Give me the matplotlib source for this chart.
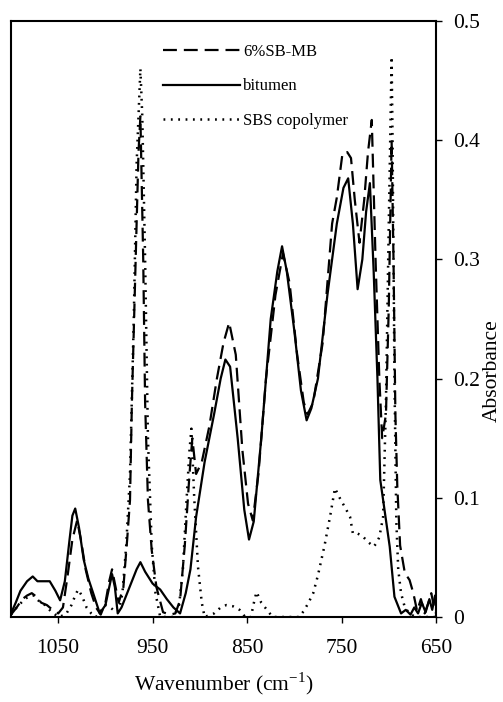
import numpy as np
import matplotlib
matplotlib.use('Agg')
import matplotlib.pyplot as plt

plt.rcParams['font.family'] = ['Liberation Serif', 'DejaVu Serif']
plt.rcParams['lines.scale_dashes'] = False

# 6%SB-MB (dashed)
wn_mb = [1100, 1094, 1088, 1083, 1078, 1073, 1068, 1062, 1056, 1050, 1045, 1040, 1035, 1030, 1026,
         1021, 1015, 1010, 1005, 1000, 996, 993, 990, 986, 981, 977, 974, 972, 968, 965, 963, 960,
         958, 955, 951, 946, 939, 932, 926, 921, 916, 911, 908, 904, 898, 890, 882, 875, 869, 862,
         855, 849, 844, 838, 830, 820, 812, 805, 797, 790, 786, 780, 770, 760, 755, 749, 744, 740,
         736, 731, 726, 722, 718, 714, 710, 707, 703, 700, 697, 695, 693, 691, 688, 683, 678, 674,
         670, 666, 662, 658, 655, 652, 650]
ab_mb = [0.002, 0.008, 0.015, 0.018, 0.02, 0.017, 0.012, 0.01, 0.006, 0.003, 0.008, 0.035, 0.065,
         0.081, 0.065, 0.04, 0.02, 0.008, 0.002, 0.012, 0.03, 0.04, 0.028, 0.012, 0.025, 0.065,
         0.098, 0.18, 0.3, 0.39, 0.42, 0.3, 0.18, 0.098, 0.056, 0.025, 0.004, 0.002, 0.003, 0.014,
         0.06, 0.12, 0.15, 0.12, 0.13, 0.16, 0.2, 0.23, 0.247, 0.22, 0.14, 0.095, 0.081, 0.12, 0.2,
         0.27, 0.305, 0.28, 0.22, 0.18, 0.17, 0.18, 0.23, 0.33, 0.352, 0.389, 0.39, 0.385, 0.35,
         0.314, 0.35, 0.39, 0.417, 0.3, 0.2, 0.15, 0.17, 0.26, 0.40, 0.30, 0.17, 0.11, 0.06, 0.037,
         0.031, 0.02, 0.005, 0.015, 0.003, 0.012, 0.02, 0.008, 0.003]

# bitumen (solid)
wn_bit = [1100, 1095, 1090, 1083, 1077, 1072, 1066, 1059, 1053, 1048, 1043, 1038, 1035, 1032, 1028,
          1023, 1018, 1013, 1006, 1000, 996, 993, 990, 987, 983, 978, 972, 967, 963, 958, 950, 942,
          935, 928, 921, 915, 910, 904, 895, 885, 878, 873, 868, 860, 853, 848, 843, 835, 825, 818,
          813, 808, 800, 793, 787, 782, 775, 765, 755, 748, 743, 738, 733, 728, 724, 720, 716, 712,
          709, 704, 699, 694, 687, 682, 677, 673, 669, 665, 661, 657, 654, 651, 650]
ab_bit = [0.003, 0.012, 0.022, 0.030, 0.034, 0.030, 0.030, 0.030, 0.022, 0.014, 0.030, 0.065, 0.085,
          0.091, 0.075, 0.048, 0.032, 0.020, 0.003, 0.01, 0.025, 0.036, 0.025, 0.003, 0.008, 0.018,
          0.03, 0.04, 0.046, 0.038, 0.028, 0.023, 0.015, 0.008, 0.003, 0.02, 0.04, 0.084, 0.13, 0.17,
          0.2, 0.216, 0.21, 0.15, 0.09, 0.065, 0.08, 0.15, 0.25, 0.29, 0.311, 0.29, 0.24, 0.19, 0.165,
          0.175, 0.2, 0.27, 0.33, 0.36, 0.368, 0.33, 0.275, 0.30, 0.34, 0.364, 0.29, 0.2, 0.115,
          0.087, 0.059, 0.017, 0.003, 0.006, 0.002, 0.008, 0.003, 0.012, 0.004, 0.015, 0.006, 0.018,
          0.01]

# SBS copolymer (dotted)
wn_sbs = [1100, 1094, 1088, 1082, 1076, 1070, 1064, 1058, 1050, 1042, 1036, 1032, 1029, 1025, 1020,
          1015, 1010, 1005, 1000, 995, 990, 986, 982, 978, 974, 970, 967, 963, 961, 958, 955, 951,
          947, 942, 935, 928, 922, 918, 914, 911, 909, 906, 902, 898, 895, 885, 878, 872, 865, 858,
          852, 846, 842, 840, 835, 828, 823, 810, 795, 790, 785, 780, 775, 768, 762, 757, 752, 745,
          741, 738, 733, 728, 722, 716, 713, 710, 706, 703, 700, 697, 696, 694, 692, 690, 687, 683,
          678, 672, 665, 658, 650]
ab_sbs = [0.002, 0.008, 0.013, 0.017, 0.018, 0.013, 0.01, 0.005, 0.0, 0.002, 0.01, 0.018, 0.023,
          0.018, 0.008, 0.003, 0.0, 0.005, 0.01, 0.008, 0.005, 0.005, 0.02, 0.06, 0.12, 0.25, 0.38,
          0.46, 0.42, 0.3, 0.15, 0.06, 0.02, 0.0, 0.0, 0.0, 0.01, 0.04, 0.1, 0.14, 0.158, 0.1, 0.042,
          0.012, 0.0, 0.003, 0.008, 0.01, 0.009, 0.006, 0.0, 0.0, 0.015, 0.021, 0.012, 0.005, 0.0,
          0.0, 0.0, 0.005, 0.012, 0.02, 0.035, 0.06, 0.085, 0.108, 0.1, 0.09, 0.084, 0.07, 0.07,
          0.068, 0.063, 0.059, 0.062, 0.067, 0.084, 0.18, 0.33, 0.47, 0.4, 0.2, 0.08, 0.04, 0.02,
          0.008, 0.003, 0.0, 0.0, 0.0, 0.0]

xticks = [1050, 950, 850, 750, 650]
yticks = [0, 0.1, 0.2, 0.3, 0.4, 0.5]
ylabels = ['0', '0.1', '0.2', '0.3', '0.4', '0.5']

fig = plt.figure(figsize=(5.03, 7.02), dpi=100)
ax = fig.add_axes([11 / 503, 1 - 617 / 702, 425 / 503, 596 / 702])

ax.plot(wn_mb, ab_mb, color='black', lw=1.6, dashes=(10, 5), label='6%SB-MB')
ax.plot(wn_bit, ab_bit, color='black', lw=1.6, label='bitumen')
ax.plot(wn_sbs, ab_sbs, color='black', lw=1.8, dashes=(1.3, 4), label='SBS copolymer')

ax.set_xlim(1100, 650)
ax.set_ylim(0, 0.5)
ax.set_xticks(xticks)
ax.set_xticklabels([str(t) for t in xticks])
ax.set_yticks(yticks)
ax.set_yticklabels(ylabels)
ax.yaxis.tick_right()
ax.yaxis.set_label_position('right')
ax.tick_params(axis='both', direction='out', length=4, width=1, labelsize=15.5)
ax.tick_params(axis='y', pad=8)
ax.tick_params(axis='x', pad=12)
for s in ax.spines.values():
    s.set_linewidth(1.5)

ax.set_xlabel('Wavenumber (cm$^{\\mathregular{-1}}$)', fontsize=15.5, labelpad=9)
ax.set_ylabel('Absorbance', fontsize=15.5)
# label sits lower than the axis middle in the original
ax.yaxis.set_label_coords(1.132, 0.414)
ax.yaxis.label.set_verticalalignment('center')
ax.yaxis.label.set_horizontalalignment('center')

ax.legend(loc='upper left', bbox_to_anchor=(163 / 503, 1 - 44 / 702), bbox_transform=fig.transFigure,
          frameon=False, fontsize=12, handlelength=4.6, handletextpad=0.2, labelspacing=1.1,
          borderpad=0, borderaxespad=0)

plt.savefig('out.png', dpi=100)
